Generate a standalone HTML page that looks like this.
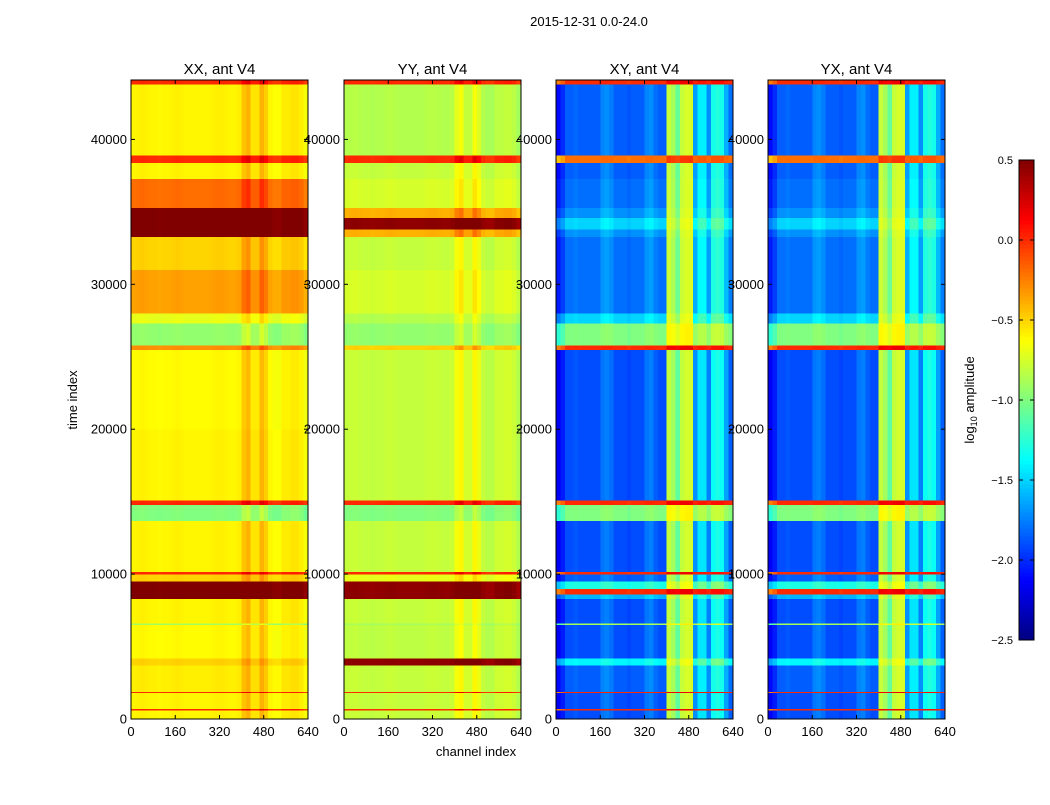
<!DOCTYPE html>
<html><head><meta charset="utf-8">
<style>
body{margin:0;background:#fff;}
svg text{font-family:"Liberation Sans",sans-serif;fill:#000;}
</style></head>
<body>
<svg id="fig" width="1050" height="800" xmlns="http://www.w3.org/2000/svg">
<rect width="1050" height="800" fill="#fff"/>
<text x="589" y="26" font-size="13" text-anchor="middle">2015-12-31 0.0-24.0</text>
<text transform="translate(77,400) rotate(-90)" font-size="13" text-anchor="middle">time index</text>
<text x="476" y="756" font-size="13" text-anchor="middle">channel index</text>
<text transform="translate(974,400) rotate(-90)" font-size="13" text-anchor="middle">log<tspan font-size="9" dy="3">10</tspan><tspan dy="-3"> amplitude</tspan></text>
<g id="panels"></g>
<g id="cbar"></g>
</svg>
<script>
// time bands (time index)
const bandStarts=[0,600,700,1800,1900,3700,4200,6500,6600,8300,8600,9000,9500,10000,10150,13700,14800,15100,20000,25500,25800,27300,28000,31000,33300,33800,34600,35300,37300,38400,38900,43800];
const bandEnds  =[600,700,1800,1900,3700,4200,6500,6600,8300,8600,9000,9500,10000,10150,13700,14800,15100,20000,25500,25800,27300,28000,31000,33300,33800,34600,35300,37300,38400,38900,43800,44100];
const xxBand=[-0.6,0.0,-0.6,0.0,-0.58,-0.5,-0.62,-0.9,-0.6,0.5,0.5,0.5,-0.5,0.0,-0.6,-1.0,0.0,-0.6,-0.62,-0.3,-0.95,-0.7,-0.35,-0.5,0.5,0.5,0.5,-0.2,-0.6,0.0,-0.6,0.0];
const yyBand=[-0.8,0.0,-0.8,0.0,-0.8,0.45,-0.82,-0.9,-0.8,0.45,0.45,0.45,-0.7,0.0,-0.8,-1.0,0.0,-0.8,-0.8,-0.5,-0.95,-0.85,-0.75,-0.8,-0.4,0.45,-0.4,-0.75,-0.8,0.0,-0.85,0.0];
const xyBand=[-1.9,0.0,-1.9,0.0,-1.85,-1.4,-1.9,-0.9,-1.9,-1.6,0.0,-1.3,-1.85,0.0,-1.9,-1.0,0.0,-1.9,-1.9,0.0,-1.0,-1.5,-1.8,-1.8,-1.7,-1.5,-1.7,-1.8,-1.85,-0.2,-1.85,0.0];
const yxBand=[-1.9,0.0,-1.9,0.0,-1.85,-1.4,-1.9,-0.9,-1.9,-1.6,0.0,-1.3,-1.85,0.0,-1.9,-1.0,0.0,-1.9,-1.9,0.0,-1.0,-1.5,-1.8,-1.8,-1.7,-1.5,-1.7,-1.8,-1.85,-0.2,-1.85,0.0];
// channel offsets per 16-channel bin (40 bins)
const autoChanOffset=[0,0.01,0.02,0.01,0,0,-0.01,0,0,0.01,0.02,0.01,0,0,0,0,0,0,0.01,0.02,0.02,0.01,0,0,0.02,0.15,0.2,0.05,0.05,0.2,0.12,0,-0.03,-0.03,0.03,0.03,0.05,0.05,0.02,-0.05];
const crossChanOffset=[-0.25,-0.15,0,0,0.03,0,0,0,0,0,0.12,0.15,0.1,0,0,0,-0.03,0,0,0,0.12,0.15,0.05,0,0,1.1,1.0,0.8,1.1,1.15,1.15,0.2,0.45,0.45,0.15,0.55,0.6,0.55,0.25,0.05];
const panelTitles=["XX, ant V4","YY, ant V4","XY, ant V4","YX, ant V4"];
const xTicks=[0,160,320,480,640];
const yTicks=[0,10000,20000,30000,40000];
const cbTicks=[0.5,0.0,-0.5,-1.0,-1.5,-2.0,-2.5];
const cbLabels=["0.5","0.0","\u22120.5","\u22121.0","\u22121.5","\u22122.0","\u22122.5"];

const NS="http://www.w3.org/2000/svg";
const vmin=-2.5,vmax=0.5,tMax=44100,chMax=640;
const panelX=[131,344,556,768],pW=177,pTop=80,pBot=719;
function yScale(t){return pBot-(t/tMax)*(pBot-pTop);}
function xScale(px,c){return px+(c/chMax)*pW;}
function jet(v){
  let t=(v-vmin)/(vmax-vmin);t=Math.max(0,Math.min(1,t));
  const c=x=>Math.max(0,Math.min(1,x));
  const r=c(Math.min(4*t-1.5,-4*t+4.5));
  const g=c(Math.min(4*t-0.5,-4*t+3.5));
  const b=c(Math.min(4*t+0.5,-4*t+2.5));
  return `rgb(${Math.round(r*255)},${Math.round(g*255)},${Math.round(b*255)})`;
}
function combine(band,off,cross){
  if(!cross) return band+off;
  if(off<=0) return band+off;
  const w=Math.max(0.15,Math.min(1,(-0.5-band)/1.4));
  return band+off*w;
}
function mk(tag,attrs,parent){const e=document.createElementNS(NS,tag);for(const k in attrs)e.setAttribute(k,attrs[k]);parent.appendChild(e);return e;}
const panels=document.getElementById('panels');
const bands=[xxBand,yyBand,xyBand,yxBand];
const offs=[autoChanOffset,autoChanOffset,crossChanOffset,crossChanOffset];
const binW=chMax/autoChanOffset.length;
for(let p=0;p<4;p++){
  const px=panelX[p];
  const g=mk('g',{},panels);
  
  
  const cg=mk('g',{'shape-rendering':'crispEdges'},g);
  for(let i=0;i<bandStarts.length;i++){
    const y0=yScale(bandEnds[i]),y1=yScale(bandStarts[i]);
    for(let j=0;j<offs[p].length;j++){
      const x0=xScale(px,j*binW),x1=xScale(px,(j+1)*binW);
      const r=mk('rect',{x:x0.toFixed(2),y:y0.toFixed(2),width:(x1-x0+0.3).toFixed(2),height:(y1-y0+0.3).toFixed(2),fill:jet(combine(bands[p][i],offs[p][j],p>=2))},cg);
      
      
    }
  }
  const fr=mk('rect',{x:px,y:pTop,width:pW,height:pBot-pTop,fill:'none',stroke:'#000','stroke-width':1},g);
  
  
  const tt=mk('text',{x:px+pW/2,y:74,'font-size':15,'text-anchor':'middle'},g);tt.textContent=panelTitles[p];
  
  
  xTicks.forEach(v=>{
    const x=xScale(px,v);
    mk('line',{x1:x,x2:x,y1:pBot,y2:pBot-4,stroke:'#000'},g);
    mk('line',{x1:x,x2:x,y1:pTop,y2:pTop+4,stroke:'#000'},g);
    const t=mk('text',{x:x,y:736,'font-size':13,'text-anchor':'middle'},g);t.textContent=v;
    
    
  });
  yTicks.forEach(v=>{
    const y=yScale(v);
    mk('line',{x1:px,x2:px+4,y1:y,y2:y,stroke:'#000'},g);
    mk('line',{x1:px+pW,x2:px+pW-4,y1:y,y2:y,stroke:'#000'},g);
    const t=mk('text',{x:px-4,y:y+4.5,'font-size':13,'text-anchor':'end'},g);t.textContent=v;
    
    
  });
}
// colorbar
const cb=document.getElementById('cbar');
const cbX=1019,cbW=15,cbTop=160,cbBot=640;
function cbY(v){return cbBot-(v-vmin)/(vmax-vmin)*(cbBot-cbTop);}
const cbg=mk('g',{'shape-rendering':'crispEdges'},cb);
const N=120;
for(let i=0;i<N;i++){
  const v0=vmin+(vmax-vmin)*i/N,v1=vmin+(vmax-vmin)*(i+1)/N;
  mk('rect',{x:cbX,y:cbY(v1),width:cbW,height:cbY(v0)-cbY(v1)+0.5,fill:jet((v0+v1)/2)},cbg);
}
mk('rect',{x:cbX,y:cbTop,width:cbW,height:cbBot-cbTop,fill:'none',stroke:'#000'},cb);
cbTicks.forEach((v,i)=>{
  const y=cbY(v);
  mk('line',{x1:cbX,x2:cbX+4,y1:y,y2:y,stroke:'#000'},cb);
  mk('line',{x1:cbX+cbW,x2:cbX+cbW-4,y1:y,y2:y,stroke:'#000'},cb);
  const t=mk('text',{x:1013,y:y+4,'font-size':11,'text-anchor':'end'},cb);t.textContent=cbLabels[i];
  
  
});
</script>
</body></html>
